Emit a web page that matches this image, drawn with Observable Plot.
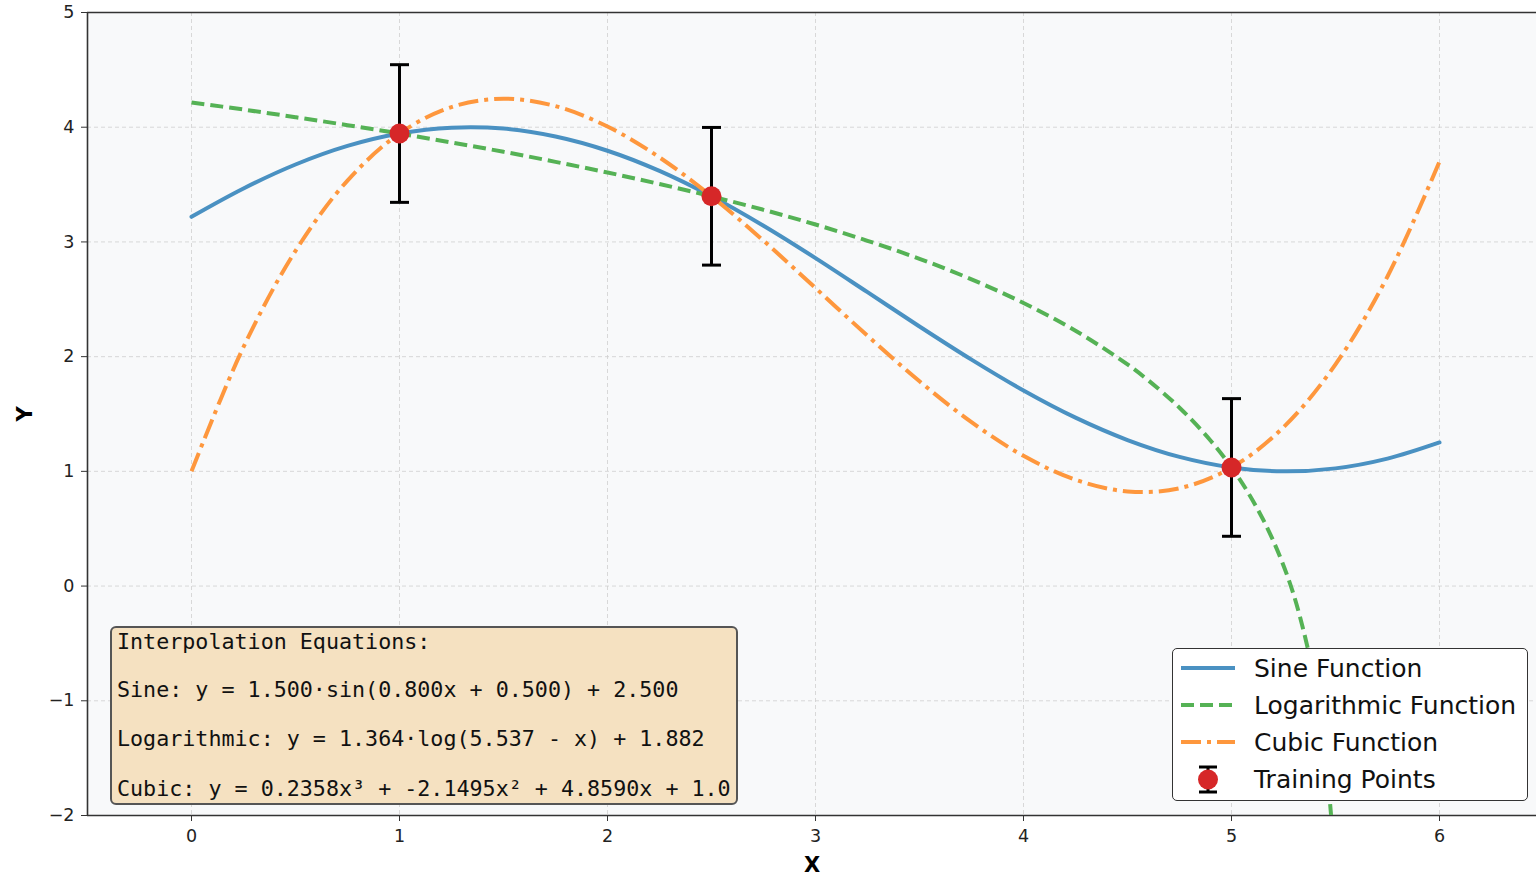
<!DOCTYPE html>
<html>
<head>
<meta charset="utf-8">
<script src="https://cdn.jsdelivr.net/npm/d3@7"></script>
<script src="https://cdn.jsdelivr.net/npm/@observablehq/plot@0.6"></script>
<style>
  html, body { margin: 0; padding: 0; background: #fff; overflow: hidden; }
  #wrap { position: relative; width: 1536px; height: 876px; }
  g[aria-label$="tick label"], g[aria-label$="tick label"] text { font-size: 17.5px !important; }
  .eqbox { position: absolute; left: 110px; top: 626px; width: 624px; height: 175px;
           background: #f5e1c1; border: 2px solid #555; border-radius: 6px; }
  .eq { position: absolute; left: 117px; font-family: "DejaVu Sans Mono", monospace;
        font-size: 21.7px; line-height: 26px; color: #111; white-space: pre; }
  .legbox { position: absolute; left: 1172px; top: 648px; width: 354px; height: 151px;
            background: #fff; border: 1.5px solid #333; border-radius: 5px; }
  .leg { position: absolute; left: 1254px; font-family: "DejaVu Sans", sans-serif;
         font-size: 25px; line-height: 30px; color: #111; white-space: pre; }
  #legsvg { position: absolute; left: 0; top: 0; pointer-events: none; }
</style>
</head>
<body>
<div id="wrap"></div>
<script>
// ---- data ----
const xGrid = [0,0.25,0.5,0.75,1,1.25,1.5,1.75,2,2.25,2.5,2.75,3,3.25,3.5,3.75,4,4.25,4.5,4.75,5,5.25,5.5,5.75,6];
const sineY = [3.219,3.466,3.675,3.837,3.945,3.996,3.988,3.919,3.795,3.619,3.398,3.141,2.859,2.562,2.263,1.974,1.705,1.468,1.273,1.126,1.034,1.000,1.026,1.111,1.252];
const cubicY = [1.000,2.084,2.922,3.535,3.945,4.176,4.248,4.184,4.006,3.737,3.398,3.011,2.598,2.182,1.785,1.429,1.135,0.927,0.825,0.853,1.033,1.385,1.933,2.699,3.700];
const logX = [0,0.25,0.5,0.75,1,1.25,1.5,1.75,2,2.25,2.5,2.75,3,3.25,3.5,3.75,4,4.25,4.5,4.6,4.75,4.9,5,5.1,5.2,5.3,5.4,5.45,5.48];
const logY = [4.216,4.154,4.087,4.018,3.945,3.867,3.786,3.698,3.605,3.505,3.397,3.280,3.152,3.010,2.853,2.674,2.468,2.226,1.932,1.793,1.555,1.267,1.034,0.753,0.398,-0.082,-0.829,-1.449,-2.026];
const trainX = [1, 2.5, 5];
const trainY = [3.945, 3.398, 1.034];
const trainErr = [0.6, 0.6, 0.6];
const xTicks = [0,1,2,3,4,5,6];
const yTicks = [-2,-1,0,1,2,3,4,5];
const equations = [
  "Interpolation Equations:",
  "Sine: y = 1.500·sin(0.800x + 0.500) + 2.500",
  "Logarithmic: y = 1.364·log(5.537 - x) + 1.882",
  "Cubic: y = 0.2358x³ + -2.1495x² + 4.8590x + 1.0"
];
const legendLabels = ["Sine Function", "Logarithmic Function", "Cubic Function", "Training Points"];

// ---- styles ----
const cSine = "#4a91c2", cLog = "#55b255", cCubic = "#fe973d", cPt = "#d62728";

const sine = xGrid.map((x, i) => ({x, y: sineY[i]}));
const cubic = xGrid.map((x, i) => ({x, y: cubicY[i]}));
const logd = logX.map((x, i) => ({x, y: logY[i]}));
const pts = trainX.map((x, i) => ({x, y: trainY[i], lo: trainY[i] - trainErr[i], hi: trainY[i] + trainErr[i]}));

const hbar = { draw(ctx, size) { const r = Math.sqrt(size / Math.PI); ctx.moveTo(-r, 0); ctx.lineTo(r, 0); } };
const fmt = d => d < 0 ? "\u2212" + (-d) : String(d);

const chart = Plot.plot({
  width: 1536, height: 876,
  marginLeft: 87, marginRight: 0, marginTop: 12, marginBottom: 61,
  style: {fontFamily: "DejaVu Sans, sans-serif", fontSize: "17.5px", color: "#222", background: "#fff", overflow: "visible"},
  x: {domain: [-0.5, 6.5], range: [87, 1543]},
  y: {domain: [-2, 5]},
  marks: [
    Plot.frame({fill: "#f8f9fa", stroke: null}),
    Plot.gridX(xTicks, {stroke: "#cfcfcf", strokeOpacity: 0.8, strokeDasharray: "4,3", strokeWidth: 1}),
    Plot.gridY(yTicks, {stroke: "#cfcfcf", strokeOpacity: 0.8, strokeDasharray: "4,3", strokeWidth: 1}),
    Plot.axisX(xTicks, {tickSize: 6, tickPadding: 8, label: null, stroke: "#333", fontSize: 17.5, fill: "#222", tickFormat: fmt}),
    Plot.axisY(yTicks, {tickSize: 6, tickPadding: 7, label: null, stroke: "#333", fontSize: 17.5, fill: "#222", tickFormat: fmt}),
    Plot.ruleX([-0.5], {stroke: "#333", strokeWidth: 1.6}),
    Plot.ruleY([5], {stroke: "#333", strokeWidth: 1.6}),
    Plot.ruleY([-2], {stroke: "#333", strokeWidth: 1.6}),
    Plot.line(sine, {x: "x", y: "y", stroke: cSine, strokeWidth: 4, curve: "catmull-rom"}),
    Plot.line(logd, {x: "x", y: "y", stroke: cLog, strokeWidth: 4, strokeDasharray: "13,6", strokeLinecap: "butt", curve: "catmull-rom", clip: true}),
    Plot.line(cubic, {x: "x", y: "y", stroke: cCubic, strokeWidth: 4, strokeDasharray: "20,6,4,6", strokeLinecap: "butt", curve: "catmull-rom"}),
    Plot.ruleX(pts, {x: "x", y1: "lo", y2: "hi", stroke: "#000", strokeWidth: 3}),
    Plot.dot(pts, {x: "x", y: "lo", r: 9.5, symbol: hbar, stroke: "#000", strokeWidth: 3, fill: "none"}),
    Plot.dot(pts, {x: "x", y: "hi", r: 9.5, symbol: hbar, stroke: "#000", strokeWidth: 3, fill: "none"}),
    Plot.dot(pts, {x: "x", y: "y", r: 10, fill: cPt, stroke: "none"}),
    Plot.text(["X"], {frameAnchor: "bottom", lineAnchor: "middle", dy: 50, fontWeight: "bold", fontSize: 21, fill: "#000"}),
    Plot.text(["Y"], {frameAnchor: "left", lineAnchor: "middle", textAnchor: "middle", dx: -62, rotate: -90, fontWeight: "bold", fontSize: 21, fill: "#000"})
  ]
});

const wrap = document.getElementById("wrap");
wrap.appendChild(chart);

// equation box
const eqBox = document.createElement("div");
eqBox.className = "eqbox";
wrap.appendChild(eqBox);
const eqTops = [628.8, 677.2, 726.2, 775.5];
equations.forEach((t, i) => {
  const d = document.createElement("div");
  d.className = "eq";
  d.style.top = eqTops[i] + "px";
  d.textContent = t;
  wrap.appendChild(d);
});

// legend
const legBox = document.createElement("div");
legBox.className = "legbox";
wrap.appendChild(legBox);
const legTops = [654, 691, 728, 765];
legendLabels.forEach((t, i) => {
  const d = document.createElement("div");
  d.className = "leg";
  d.style.top = legTops[i] + "px";
  d.textContent = t;
  wrap.appendChild(d);
});
const ns = "http://www.w3.org/2000/svg";
const ls = document.createElementNS(ns, "svg");
ls.setAttribute("id", "legsvg");
ls.setAttribute("width", 1536);
ls.setAttribute("height", 876);
const sw = [
  {c: cSine, dash: null, y: 668},
  {c: cLog, dash: "13,6", y: 705},
  {c: cCubic, dash: "20,6,4,6", y: 742}
];
sw.forEach(s => {
  const l = document.createElementNS(ns, "line");
  l.setAttribute("x1", 1181); l.setAttribute("x2", 1235);
  l.setAttribute("y1", s.y); l.setAttribute("y2", s.y);
  l.setAttribute("stroke", s.c); l.setAttribute("stroke-width", 4);
  if (s.dash) l.setAttribute("stroke-dasharray", s.dash);
  ls.appendChild(l);
});
const mk = (tag, attrs) => { const e = document.createElementNS(ns, tag); for (const k in attrs) e.setAttribute(k, attrs[k]); ls.appendChild(e); };
mk("line", {x1: 1208, x2: 1208, y1: 767, y2: 792, stroke: "#000", "stroke-width": 3});
mk("line", {x1: 1199, x2: 1217, y1: 767, y2: 767, stroke: "#000", "stroke-width": 3});
mk("line", {x1: 1199, x2: 1217, y1: 792, y2: 792, stroke: "#000", "stroke-width": 3});
mk("circle", {cx: 1208, cy: 779.5, r: 10, fill: cPt});
wrap.appendChild(ls);
</script>
</body>
</html>
